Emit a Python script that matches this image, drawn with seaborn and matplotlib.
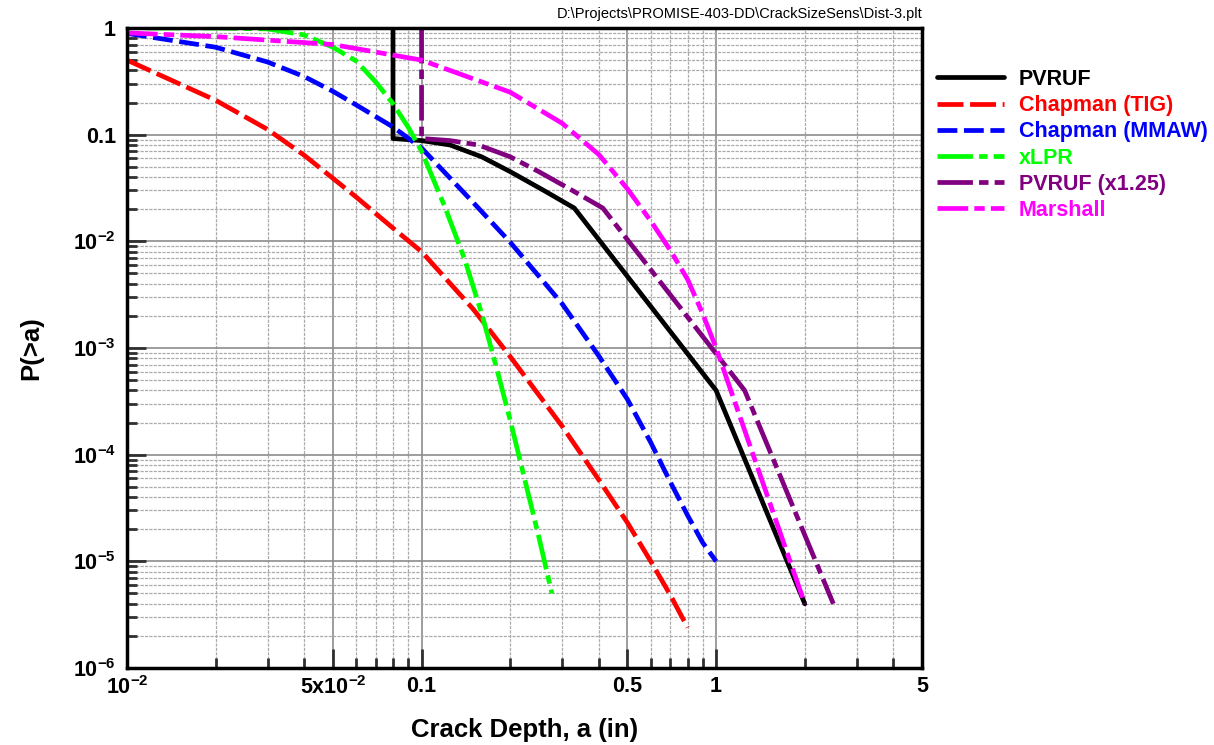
import matplotlib
matplotlib.use("Agg")
import numpy as np
import pandas as pd
import seaborn as sns
import matplotlib.pyplot as plt
from matplotlib.ticker import FixedLocator, LogLocator, NullFormatter

# ---- data ----
pvruf_a = [0.08, 0.08, 0.1, 0.125, 0.16, 0.2, 0.26, 0.33, 1.0, 2.0]
pvruf_p = [1.0, 0.092, 0.088, 0.08, 0.062, 0.045, 0.03, 0.0205, 4.0e-4, 4.0e-6]

chap_tig_a = [0.01, 0.02, 0.03, 0.04, 0.05, 0.06, 0.08, 0.1, 0.15, 0.2, 0.3, 0.4, 0.5, 0.6, 0.7, 0.8]
chap_tig_p = [0.5, 0.21, 0.112, 0.064, 0.039, 0.026, 0.0133, 0.008, 0.0023, 8.3e-4, 1.85e-4,
              5.8e-5, 2.3e-5, 1.0e-5, 4.8e-6, 2.4e-6]

chap_mmaw_a = [0.01, 0.02, 0.03, 0.04, 0.05, 0.06, 0.08, 0.1, 0.15, 0.2, 0.3, 0.4, 0.5,
               0.6, 0.7, 0.8, 0.9, 1.0]
chap_mmaw_p = [0.89, 0.66, 0.48, 0.35, 0.255, 0.19, 0.118, 0.075, 0.023, 0.0098, 0.0026,
               8.4e-4, 3.3e-4, 1.3e-4, 5.5e-5, 2.7e-5, 1.5e-5, 1.0e-5]

xlpr_a = [0.0116, 0.02, 0.03, 0.04, 0.05, 0.06, 0.07, 0.08, 0.09, 0.1, 0.12, 0.14, 0.16,
          0.18, 0.2, 0.25, 0.277]
xlpr_p = [1.0, 1.0, 0.98, 0.86, 0.66, 0.49, 0.31, 0.195, 0.118, 0.07, 0.021, 0.0068, 0.0021,
          6.4e-4, 2.1e-4, 1.7e-5, 5.0e-6]

pvruf125_a = [0.1, 0.1, 0.125, 0.156, 0.2, 0.25, 0.325, 0.4125, 1.25, 2.5]
pvruf125_p = [1.0, 0.092, 0.088, 0.08, 0.062, 0.045, 0.03, 0.0205, 4.0e-4, 4.0e-6]

marshall_a = [0.01, 0.02, 0.05, 0.1, 0.2, 0.3, 0.4, 0.5, 0.6, 0.7, 0.8, 0.9, 1.0, 2.0]
marshall_p = [0.9, 0.83, 0.70, 0.50, 0.25, 0.128, 0.065, 0.031, 0.0155, 0.0082, 0.0044,
              0.0021, 1.0e-3, 4.0e-6]

names = ["PVRUF", "Chapman (TIG)", "Chapman (MMAW)", "xLPR", "PVRUF (x1.25)", "Marshall"]
colors = ["#000000", "#ff0000", "#0000ff", "#00ff00", "#800080", "#ff00ff"]
dash_list = ["", (5.5, 1.4), (4.2, 1.4), (7.5, 1.3, 1.8, 1.3), (7.5, 1.3, 2, 1.3), (6.5, 1.3, 2.2, 1.3)]

y_tick_vals = [1e-6, 1e-5, 1e-4, 1e-3, 1e-2, 0.1, 1]
y_tick_labels = ["10$^{-6}$", "10$^{-5}$", "10$^{-4}$", "10$^{-3}$", "10$^{-2}$", "0.1", "1"]
x_tick_vals = [0.01, 0.05, 0.1, 0.5, 1, 5]
x_tick_labels = ["10$^{-2}$", "5x10$^{-2}$", "0.1", "0.5", "1", "5"]

series = [(pvruf_a, pvruf_p), (chap_tig_a, chap_tig_p), (chap_mmaw_a, chap_mmaw_p),
          (xlpr_a, xlpr_p), (pvruf125_a, pvruf125_p), (marshall_a, marshall_p)]
df = pd.concat([pd.DataFrame({"a": a, "P": p, "case": n}) for n, (a, p) in zip(names, series)],
               ignore_index=True)

sns.set_theme(style="white")
plt.rcParams["font.family"] = ["Liberation Sans", "DejaVu Sans"]
plt.rcParams["font.weight"] = "bold"
plt.rcParams["mathtext.fontset"] = "custom"
plt.rcParams["mathtext.rm"] = "Liberation Sans:bold"
plt.rcParams["mathtext.bf"] = "Liberation Sans:bold"
plt.rcParams["mathtext.it"] = "Liberation Sans:bold"

W, H = 1214, 745
fig = plt.figure(figsize=(W / 100, H / 100), dpi=100)
ax = fig.add_axes([127 / W, 1 - 668 / H, 795 / W, 640 / H])

sns.lineplot(data=df, x="a", y="P", hue="case", style="case", hue_order=names,
             style_order=names, palette=dict(zip(names, colors)),
             dashes=dict(zip(names, dash_list)), sort=False, estimator=None,
             lw=3.4, legend=False, ax=ax)

ax.set_xscale("log")
ax.set_yscale("log")
ax.set_xlim(0.01, 5)
ax.set_ylim(1e-6, 1)

ax.xaxis.set_major_locator(FixedLocator(x_tick_vals))
ax.set_xticklabels(x_tick_labels)
ax.xaxis.set_minor_locator(LogLocator(base=10, subs=np.arange(2, 10)))
ax.xaxis.set_minor_formatter(NullFormatter())
ax.yaxis.set_major_locator(FixedLocator(y_tick_vals))
ax.set_yticklabels(y_tick_labels)
ax.yaxis.set_minor_locator(LogLocator(base=10, subs=np.arange(2, 10)))
ax.yaxis.set_minor_formatter(NullFormatter())

ax.grid(True, which="major", color="#8c8c8c", lw=1.2, ls="-")
ax.grid(True, which="minor", color="#ababab", lw=0.9, ls=(0, (2.5, 1)))
ax.set_axisbelow(True)

ax.tick_params(which="both", direction="in", bottom=True, left=True, top=False, right=False,
               colors="#303030", labelcolor="black", labelsize=15.5)
ax.tick_params(which="major", length=14, width=2)
ax.tick_params(which="minor", length=7, width=2)
ax.tick_params(axis="x", pad=6)
ax.tick_params(axis="y", pad=8)

for s in ax.spines.values():
    s.set_linewidth(2.5)
    s.set_color("black")

ax.set_xlabel("Crack Depth, a (in)", fontsize=18.5, fontweight="bold", color="black")
ax.xaxis.set_label_coords(0.5, -62 / 640)
ax.xaxis.label.set_verticalalignment("center")
ax.set_ylabel("P(>a)", fontsize=18.5, fontweight="bold", color="black")
ax.yaxis.set_label_coords((31 - 127) / 795, 0.5)
ax.yaxis.label.set_verticalalignment("center")

leg = ax.legend(handles=ax.lines[:len(names)], labels=names, loc="upper left",
                bbox_to_anchor=(937 / W, 1 - 69 / H), bbox_transform=fig.transFigure,
                frameon=False, fontsize=15.5, handlelength=3.1, handletextpad=0.7,
                labelspacing=0.24, borderpad=0, borderaxespad=0)
for txt, c in zip(leg.get_texts(), colors):
    txt.set_color(c)
    txt.set_fontweight("bold")

fig.text(922 / W, 1 - 14 / H, r"D:\Projects\PROMISE-403-DD\CrackSizeSens\Dist-3.plt",
         ha="right", va="center", fontsize=10.5, fontweight="normal", color="black")

fig.savefig("out.png", dpi=100)
plt.close(fig)
